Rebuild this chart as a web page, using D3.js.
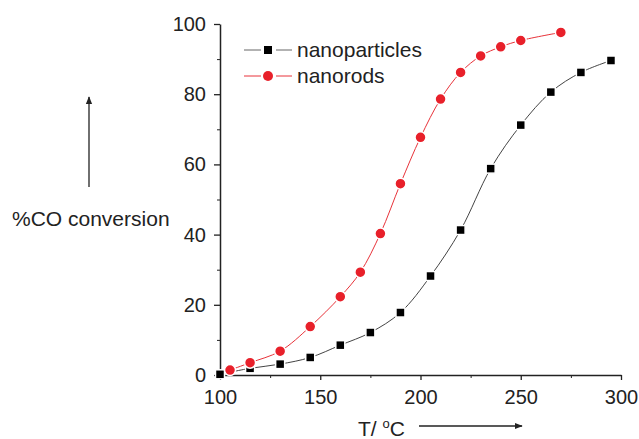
<!DOCTYPE html>
<html>
<head>
<meta charset="utf-8">
<script src="https://cdn.jsdelivr.net/npm/d3@7"></script>
<style>
  body { margin: 0; background: #fff; }
  svg { display: block; font-family: "Liberation Sans", Arial, sans-serif; }
  .axis path, .axis line { stroke: #222; }
  .axis text { fill: #222; font-size: 20px; }
</style>
</head>
<body>
<svg width="639" height="439"></svg>
<script>
// temperatures (°C) and % CO conversion
var tempParticles = [100, 115, 130, 145, 160, 175, 190, 205, 220, 235, 250, 265, 280, 295];
var convParticles = [0.2, 1.9, 3.1, 5.0, 8.5, 12.1, 17.8, 28.2, 41.3, 58.8, 71.2, 80.6, 86.2, 89.6];

var tempRods = [105, 115, 130, 145, 160, 170, 180, 190, 200, 210, 220, 230, 240, 250, 270];
var convRods = [1.4, 3.5, 6.8, 13.8, 22.3, 29.3, 40.3, 54.5, 67.7, 78.6, 86.2, 90.9, 93.5, 95.3, 97.6];

var xTicks = [100, 150, 200, 250, 300];
var xMinor = [125, 175, 225, 275];
var yTicks = [0, 20, 40, 60, 80, 100];
var yMinor = [10, 30, 50, 70, 90];

var seriesNames = ["nanoparticles", "nanorods"];

var svg = d3.select("svg");

var x = d3.scaleLinear().domain([100, 300]).range([220, 621]);
var y = d3.scaleLinear().domain([0, 100]).range([375, 24]);

var particles = tempParticles.map(function(t, i) { return {t: t, v: convParticles[i]}; });
var rods = tempRods.map(function(t, i) { return {t: t, v: convRods[i]}; });

// axes
svg.append("g")
    .attr("class", "axis")
    .attr("transform", "translate(0," + y(0) + ")")
    .call(d3.axisBottom(x).tickValues(xMinor).tickSize(3).tickSizeOuter(0).tickFormat(""))
    .call(function(g) { g.select(".domain").remove(); });
svg.append("g")
    .attr("class", "axis")
    .attr("transform", "translate(0," + y(0) + ")")
    .call(d3.axisBottom(x).tickValues(xTicks).tickSize(5).tickSizeOuter(0).tickPadding(10))
    .call(function(g) { g.select(".domain").attr("stroke-width", 1.5); g.selectAll("line").attr("stroke-width", 1.3); });

svg.append("g")
    .attr("class", "axis")
    .attr("transform", "translate(" + x(100) + ",0)")
    .call(d3.axisLeft(y).tickValues(yMinor).tickSize(3).tickSizeOuter(0).tickFormat(""))
    .call(function(g) { g.select(".domain").remove(); });
svg.append("g")
    .attr("class", "axis")
    .attr("transform", "translate(" + x(100) + ",0)")
    .call(d3.axisLeft(y).tickValues(yTicks).tickSize(6).tickSizeOuter(0).tickPadding(8))
    .call(function(g) { g.select(".domain").attr("stroke-width", 1.5); g.selectAll("line").attr("stroke-width", 1.3); });

// lines
var line = d3.line()
    .x(function(d) { return x(d.t); })
    .y(function(d) { return y(d.v); })
    .curve(d3.curveCatmullRom);

svg.append("path")
    .datum(particles)
    .attr("fill", "none")
    .attr("stroke", "#444")
    .attr("stroke-width", 1)
    .attr("d", line);

svg.append("path")
    .datum(rods)
    .attr("fill", "none")
    .attr("stroke", "#e8333a")
    .attr("stroke-width", 1)
    .attr("d", line);

// markers
svg.append("g").selectAll("rect")
    .data(particles)
    .enter().append("rect")
      .attr("x", function(d) { return x(d.t) - 4.5; })
      .attr("y", function(d) { return y(d.v) - 4.5; })
      .attr("width", 9)
      .attr("height", 9)
      .attr("fill", "#000")
      .attr("stroke", "#fff")
      .attr("stroke-width", 1.5);

svg.append("g").selectAll("circle")
    .data(rods)
    .enter().append("circle")
      .attr("cx", function(d) { return x(d.t); })
      .attr("cy", function(d) { return y(d.v); })
      .attr("r", 5.5)
      .attr("fill", "#e8202a")
      .attr("stroke", "#fff")
      .attr("stroke-width", 1.5);

// legend
var legend = svg.append("g").attr("transform", "translate(244,50)");
var lg = legend.selectAll("g")
    .data(seriesNames)
    .enter().append("g")
      .attr("transform", function(d, i) { return "translate(0," + i * 26 + ")"; });

lg.append("line").attr("x1", 0).attr("x2", 17)
    .attr("stroke", function(d, i) { return i ? "#e8333a" : "#666"; });
lg.append("line").attr("x1", 32).attr("x2", 48)
    .attr("stroke", function(d, i) { return i ? "#e8333a" : "#666"; });
lg.filter(function(d, i) { return i === 0; }).append("rect")
    .attr("x", 20).attr("y", -4).attr("width", 8).attr("height", 8).attr("fill", "#000");
lg.filter(function(d, i) { return i === 1; }).append("circle")
    .attr("cx", 24).attr("r", 5).attr("fill", "#e8202a");
lg.append("text")
    .attr("x", 53)
    .attr("dy", "0.35em")
    .attr("fill", "#222")
    .style("font-size", "21px")
    .text(function(d) { return d; });

// axis titles with arrows
svg.append("defs").append("marker")
    .attr("id", "arrow")
    .attr("viewBox", "0 0 10 10")
    .attr("refX", 9).attr("refY", 5)
    .attr("markerWidth", 6).attr("markerHeight", 6)
    .attr("orient", "auto")
  .append("path")
    .attr("d", "M0,1L10,5L0,9Z")
    .attr("fill", "#222");

svg.append("text")
    .attr("x", 12)
    .attr("y", 226)
    .attr("fill", "#222")
    .style("font-size", "21px")
    .text("%CO conversion");

svg.append("line")
    .attr("x1", 89).attr("y1", 187)
    .attr("x2", 89).attr("y2", 97)
    .attr("stroke", "#222")
    .attr("stroke-width", 1.3)
    .attr("marker-end", "url(#arrow)");

var xt = svg.append("text")
    .attr("x", 358)
    .attr("y", 436)
    .attr("fill", "#222")
    .style("font-size", "21px");
xt.append("tspan").text("T/ ");
xt.append("tspan").attr("dy", -8).style("font-size", "13px").text("o");
xt.append("tspan").attr("dy", 8).text("C");

svg.append("line")
    .attr("x1", 419).attr("y1", 426)
    .attr("x2", 522).attr("y2", 426)
    .attr("stroke", "#222")
    .attr("stroke-width", 1.3)
    .attr("marker-end", "url(#arrow)");
</script>
</body>
</html>
